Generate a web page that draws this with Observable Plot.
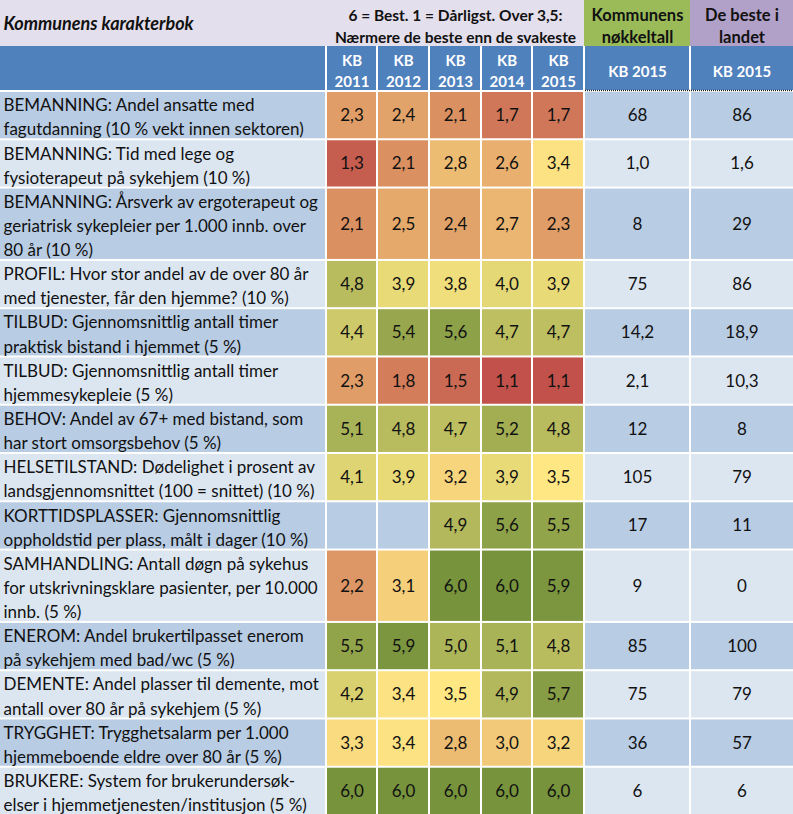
<!DOCTYPE html>
<html><head><meta charset="utf-8">
<script src="https://cdn.jsdelivr.net/npm/d3@7"></script>
<script src="https://cdn.jsdelivr.net/npm/@observablehq/plot@0.6"></script>
<style>body{margin:0;background:#fff} svg{display:block}</style>
</head><body><div id="chart"></div>
<script>
// ---------- data ----------
const title = "Kommunens karakterbok";
const scaleNote = "6 = Best. 1 = Dårligst. Over 3,5:\nNærmere de beste enn de svakeste";
const groupHeads = ["Kommunens\nnøkkeltall", "De beste i\nlandet"];
const yearCols = ["KB\n2011", "KB\n2012", "KB\n2013", "KB\n2014", "KB\n2015"];
const extraCols = ["KB 2015", "KB 2015"];
const indicators = [
  "BEMANNING: Andel ansatte med\nfagutdanning (10 % vekt innen sektoren)",
  "BEMANNING: Tid med lege og\nfysioterapeut på sykehjem (10 %)",
  "BEMANNING: Årsverk av ergoterapeut og\ngeriatrisk sykepleier per 1.000 innb. over\n80 år (10 %)",
  "PROFIL: Hvor stor andel av de over 80 år\nmed tjenester, får den hjemme? (10 %)",
  "TILBUD: Gjennomsnittlig antall timer\npraktisk bistand i hjemmet (5 %)",
  "TILBUD: Gjennomsnittlig antall timer\nhjemmesykepleie (5 %)",
  "BEHOV: Andel av 67+ med bistand, som\nhar stort omsorgsbehov (5 %)",
  "HELSETILSTAND: Dødelighet i prosent av\nlandsgjennomsnittet (100 = snittet) (10 %)",
  "KORTTIDSPLASSER: Gjennomsnittlig\noppholdstid per plass, målt i dager (10 %)",
  "SAMHANDLING: Antall døgn på sykehus\nfor utskrivningsklare pasienter, per 10.000\ninnb. (5 %)",
  "ENEROM: Andel brukertilpasset enerom\npå sykehjem med bad/wc (5 %)",
  "DEMENTE: Andel plasser til demente, mot\nantall over 80 år på sykehjem (5 %)",
  "TRYGGHET: Trygghetsalarm per 1.000\nhjemmeboende eldre over 80 år (5 %)",
  "BRUKERE: System for brukerundersøk-\nelser i hjemmetjenesten/institusjon (5 %)"
];
const kb2011 = [2.3, 1.3, 2.1, 4.8, 4.4, 2.3, 5.1, 4.1, null, 2.2, 5.5, 4.2, 3.3, 6.0];
const kb2012 = [2.4, 2.1, 2.5, 3.9, 5.4, 1.8, 4.8, 3.9, null, 3.1, 5.9, 3.4, 3.4, 6.0];
const kb2013 = [2.1, 2.8, 2.4, 3.8, 5.6, 1.5, 4.7, 3.2, 4.9, 6.0, 5.0, 3.5, 2.8, 6.0];
const kb2014 = [1.7, 2.6, 2.7, 4.0, 4.7, 1.1, 5.2, 3.9, 5.6, 6.0, 5.1, 4.9, 3.0, 6.0];
const kb2015 = [1.7, 3.4, 2.3, 3.9, 4.7, 1.1, 4.8, 3.5, 5.5, 5.9, 4.8, 5.7, 3.2, 6.0];
const nokkeltall = ["68", "1,0", "8", "75", "14,2", "2,1", "12", "105", "17", "9", "85", "75", "36", "6"];
const beste = ["86", "1,6", "29", "86", "18,9", "10,3", "8", "79", "11", "0", "100", "79", "57", "6"];

// ---------- layout / style ----------
const W = 793, H = 814;
const colEdges = [0, 326, 377, 429, 481, 532, 584, 690, 793];
const headSplit = 46, bodyTop = 91;
const FONT = "Lato";
const FS = 17;
const C = {
  lavender: "#e4dfec", green: "#9bbb59", purple: "#b1a0c7", blue: "#4f81bd",
  bandA: "#b8cce4", bandB: "#dce6f1", text: "#111"
};

const series = [kb2011, kb2012, kb2013, kb2014, kb2015];
const lineCounts = indicators.map(s => s.split("\n").length);
const lineH = (H + 1 - bodyTop) / d3.sum(lineCounts);
let acc = bodyTop;
const rows = indicators.map((label, i) => {
  const y0 = acc; acc += lineCounts[i] * lineH;
  return {i, label, y0, y1: acc, band: i % 2 === 0 ? C.bandA : C.bandB};
});
const colX = k => (colEdges[k] + colEdges[k + 1]) / 2;

// cells
const scoreCells = [];
rows.forEach(r => series.forEach((s, k) => scoreCells.push({...r, col: k + 1, value: s[r.i]})));
const extraCells = [];
rows.forEach(r => [nokkeltall, beste].forEach((s, k) => extraCells.push({...r, col: k + 6, text: s[r.i]})));
const labelCells = rows.map(r => ({...r, col: 0}));
const allBand = [...labelCells, ...extraCells, ...scoreCells.filter(d => d.value == null)];
const headCols = d3.range(8).map(k => ({col: k,
  text: k === 0 ? "" : k <= 5 ? yearCols[k - 1] : extraCols[k - 6]}));

const fmt = v => v.toFixed(1).replace(".", ",");
const cx1 = d => d.col === 0 ? colEdges[0] : colEdges[d.col] + 1;
const cx2 = d => colEdges[d.col + 1] - (d.col === 7 ? 0 : 1);

const chart = Plot.plot({
  width: W, height: H, margin: 0,
  x: {domain: [0, W], range: [0, W], axis: null},
  y: {domain: [0, H], range: [0, H], axis: null},
  color: {type: "linear", domain: [1, 3.5, 6], range: ["#be4b48", "#ffe884", "#77933c"], interpolate: "rgb"},
  style: {fontFamily: FONT, background: "#fff"},
  marks: [
    // top header blocks
    Plot.rect([{x1: 0, x2: colEdges[6]}], {x1: "x1", x2: "x2", y1: () => 0, y2: () => headSplit, fill: C.lavender}),
    Plot.rect([{x1: colEdges[6], x2: colEdges[7]}], {x1: "x1", x2: "x2", y1: () => 0, y2: () => headSplit, fill: C.green}),
    Plot.rect([{x1: colEdges[7], x2: colEdges[8]}], {x1: "x1", x2: "x2", y1: () => 0, y2: () => headSplit, fill: C.purple}),
    // blue column header row
    Plot.rect(headCols, {x1: d => d.col === 0 ? 0 : colEdges[d.col] + 1, x2: d => colEdges[d.col + 1] - (d.col === 7 ? 0 : 1),
      y1: () => headSplit, y2: () => bodyTop - 1, fill: C.blue}),
    Plot.ruleY([bodyTop - 1], {x1: colEdges[6] + 1, x2: W, stroke: "#222", strokeWidth: 1.6, strokeDasharray: "1,1"}),
    // body
    Plot.rect(allBand.filter(d => d.band === C.bandA), {x1: cx1, x2: cx2, y1: d => d.y0 + 1, y2: d => d.y1 - 1, fill: C.bandA}),
    Plot.rect(allBand.filter(d => d.band === C.bandB), {x1: cx1, x2: cx2, y1: d => d.y0 + 1, y2: d => d.y1 - 1, fill: C.bandB}),
    Plot.rect(scoreCells.filter(d => d.value != null), {x1: cx1, x2: cx2, y1: d => d.y0 + 1, y2: d => d.y1 - 1, fill: "value"}),
    // texts
    Plot.text([title], {x: () => 3, y: () => headSplit / 2 + 1, text: d => d, textAnchor: "start",
      fontSize: 18, fontWeight: "bold", fontStyle: "italic", fill: C.text}),
    Plot.text([scaleNote], {x: () => (colEdges[1] + colEdges[6]) / 2, y: () => headSplit / 2 + 1, text: d => d,
      fontSize: 15.5, fontWeight: "bold", lineHeight: 1.42, fill: C.text}),
    Plot.text(groupHeads, {x: (d, i) => colX(i + 6), y: () => headSplit / 2 + 1, text: d => d,
      fontSize: 16.5, fontWeight: "bold", lineHeight: 1.34, fill: C.text}),
    Plot.text(headCols.filter(d => d.text), {x: d => colX(d.col), y: () => (headSplit + bodyTop) / 2 + 1, text: "text",
      fontSize: 15, fontWeight: "bold", lineHeight: 1.4, fill: "#fff"}),
    Plot.text(labelCells, {x: () => 3, y: d => (d.y0 + d.y1) / 2, text: "label", textAnchor: "start",
      fontSize: FS, lineHeight: lineH / FS, fill: C.text}),
    Plot.text(scoreCells.filter(d => d.value != null), {x: d => colX(d.col), y: d => (d.y0 + d.y1) / 2,
      text: d => fmt(d.value), fontSize: FS, fill: C.text}),
    Plot.text(extraCells, {x: d => colX(d.col), y: d => (d.y0 + d.y1) / 2, text: "text", fontSize: FS, fill: C.text})
  ]
});
document.getElementById("chart").append(chart);
</script>
</body></html>
